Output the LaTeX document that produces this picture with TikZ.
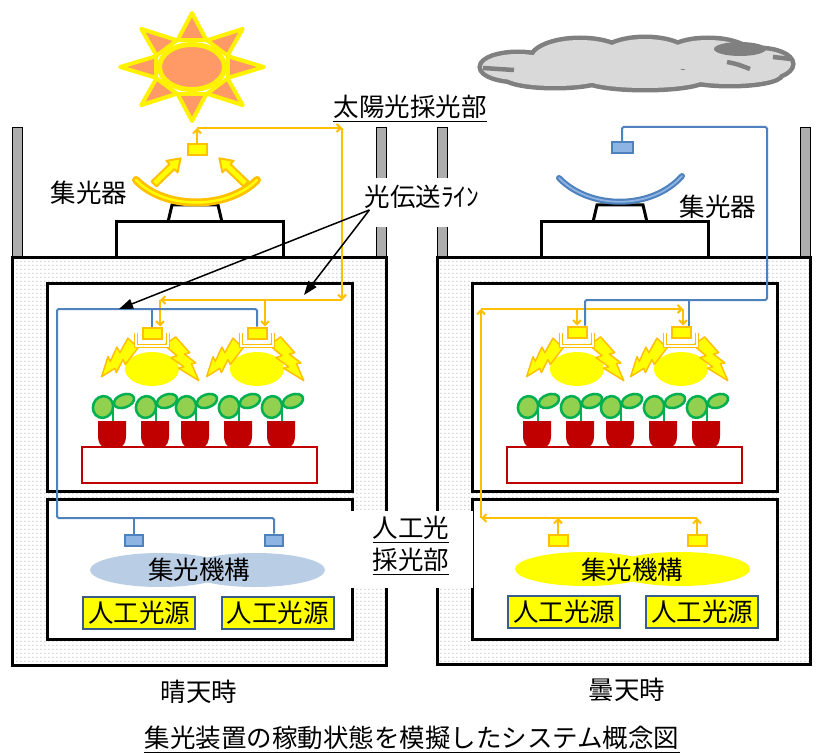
\documentclass[tikz,border=0pt]{standalone}
\usepackage{fontspec}
\setmainfont{Noto Sans CJK JP}
\usetikzlibrary{arrows.meta,patterns}

\definecolor{lampor}{HTML}{FFC000}
\definecolor{lampyl}{HTML}{FFFF00}
\definecolor{pipeblue}{HTML}{4F81BD}
\definecolor{pipelite}{HTML}{8EB4E3}
\definecolor{ellblue}{HTML}{B9CDE5}
\definecolor{boxedge}{HTML}{385D8A}
\definecolor{potred}{HTML}{C00000}
\definecolor{leafg}{HTML}{92D050}
\definecolor{leafedge}{HTML}{00B050}
\definecolor{sunsalmon}{HTML}{FF9966}
\definecolor{sunyl}{HTML}{FFF200}
\definecolor{cloudfill}{HTML}{D9D9D9}
\definecolor{cloudedge}{HTML}{808080}

% light stipple used for the insulated walls of the chambers
\pgfdeclarepatternformonly{stipple}{\pgfpointorigin}{\pgfpoint{4pt}{4pt}}{\pgfpoint{4pt}{4pt}}{%
  \pgfpathrectangle{\pgfpoint{0.5pt}{0.5pt}}{\pgfpoint{1.3pt}{0.9pt}}\pgfusepath{fill}}

\tikzset{
  lbl/.style={font=\fontsize{25.5}{30}\selectfont, inner sep=0pt},
  boxline/.style={draw=black, line width=3pt, line join=miter},
  wallstrip/.style={draw=black, line width=0.8pt, fill=black!32},
  oline/.style={draw=lampor, line width=2pt},
  oarr/.style={oline, -{Straight Barb[length=4pt,width=8pt]}},
  bline/.style={draw=pipeblue, line width=2pt, rounded corners=1.5pt},
  lamphead/.style={draw=lampor, fill=lampyl, line width=2pt, minimum width=19pt, minimum height=11pt, inner sep=0pt},
  bluehead/.style={draw=pipeblue, fill=pipelite, line width=2pt, minimum width=18pt, minimum height=11pt, inner sep=0pt},
  hood/.style={draw=lampor, line width=1.3pt, double=white, double distance=1.5pt},
  boltshape/.style={draw=lampor, fill=lampyl, line width=1.5pt, line join=round},
  blockarrow/.style={draw=lampor, fill=lampyl, line width=2pt, line join=round},
  leafshape/.style={draw=leafedge, fill=leafg, line width=2.5pt},
  srcbox/.style={lbl, draw=boxedge, fill=lampyl, line width=2pt, minimum width=112pt, minimum height=32pt},
  pointer/.style={draw=black, line width=1.5pt, -{Triangle[length=14pt,width=10pt]}},
  ul/.style={draw=black, line width=1.6pt},
}

\begin{document}
\begin{tikzpicture}[x=1pt, y=-1pt]
\useasboundingbox (0,0) rectangle (819,754);
\fill[white] (0,0) rectangle (819,754);

% ---------- side walls above the chambers ----------
\foreach \wx in {12,376,437,800}
  \draw[wallstrip] (\wx,127) rectangle (\wx+10,257);

% ---------- outer chambers ----------
\draw[boxline, pattern=stipple, pattern color=black!40] (12,257) rectangle (386,665);
\draw[boxline, pattern=stipple, pattern color=black!40] (437,257) rectangle (810,664);

% ---------- collector pedestals ----------
\foreach \dx in {0,425} {
  \draw[boxline, fill=white] (168+\dx,222) -- (172+\dx,205) -- (218+\dx,205) -- (222+\dx,222);
  \draw[boxline, fill=white] (116+\dx,222) rectangle (283+\dx,257);
}

% ---------- sunny-side collector dish ----------
\draw[lampor, line width=8pt, line cap=round] (136,180) .. controls (165,210) and (227,210) .. (257,180);
\draw[lampyl, line width=2.5pt, line cap=round] (136,180) .. controls (165,210) and (227,210) .. (257,180);
\begin{scope}[shift={(154,184)}, rotate=44]
  \draw[blockarrow] (0,-3.5) -- (25,-3.5) -- (25,-8) -- (37,0) -- (25,8) -- (25,3.5) -- (0,3.5) -- cycle;
\end{scope}
\begin{scope}[shift={(246,184)}, rotate=136]
  \draw[blockarrow] (0,-3.5) -- (25,-3.5) -- (25,-8) -- (37,0) -- (25,8) -- (25,3.5) -- (0,3.5) -- cycle;
\end{scope}
\node[lamphead] (rcvL) at (197,150) {};

% ---------- cloudy-side collector dish ----------
\draw[pipeblue, line width=6pt, line cap=round] (559,178) .. controls (590,210) and (652,210) .. (682,176);
\draw[pipelite, line width=1.8pt, line cap=round] (559,178) .. controls (590,210) and (652,210) .. (682,176);
\node[bluehead, minimum width=21pt] (rcvR) at (622,148) {};

% ---------- growth chambers and light-source rooms ----------
\foreach \dx in {0,425} {
  \draw[boxline, fill=white] (47+\dx,283) rectangle (352+\dx,491);
  \draw[boxline, fill=white] (47+\dx,499) rectangle (352+\dx,639);
  \draw[potred, line width=2pt, fill=white] (82+\dx,447) rectangle (317+\dx,483);
}

% ---------- seedlings in pots ----------
\foreach \p in {112,155,195,238,281,537,580,620,663,706} {
  \draw[leafedge, line width=2pt] (\p+1,421) -- (\p+1,404);
  \draw[leafshape, rotate around={-20:(\p-9,407)}] (\p-9,407) ellipse [x radius=10, y radius=11];
  \draw[leafshape, rotate around={20:(\p+12,401)}] (\p+12,401) ellipse [x radius=10.5, y radius=6.5];
  \fill[potred] (\p-14,421) -- (\p+14,421) -- (\p+14,436) to[out=-90,in=0] (\p+7,447)
    -- (\p-7,447) to[out=180,in=-90] (\p-14,436) -- cycle;
}

% ---------- lamps with their light ----------
\foreach \c in {152,257,577,681} {
  \fill[lampyl] (\c,369) ellipse [x radius=27, y radius=17];
  \begin{scope}[shift={(\c-19,343)}, rotate=227]
    \draw[boltshape] (0,-7) -- (0,7) -- (16,3) -- (14,9) -- (29,4) -- (27,9) -- (46,0)
      -- (31,-4) -- (33,-8) -- (19,-4) -- (21,-9) -- cycle;
  \end{scope}
  \begin{scope}[shift={(\c+18,341)}, rotate=-54]
    \draw[boltshape] (0,-7) -- (0,7) -- (16,3) -- (14,9) -- (29,4) -- (27,9) -- (49,0)
      -- (31,-4) -- (33,-8) -- (19,-4) -- (21,-9) -- cycle;
  \end{scope}
  \draw[hood] (\c-16,333) -- (\c-16,346) -- (\c+16,346) -- (\c+16,333);
}
\node[lamphead] (lhL1) at (152,333) {};
\node[lamphead] (lhL2) at (257,333) {};
\node[lamphead] (lhR1) at (577,332) {};
\node[lamphead] (lhR2) at (681,332) {};

% ---------- light collecting mechanism and artificial sources ----------
\fill[ellblue] (160,570) ellipse [x radius=70, y radius=17];
\fill[ellblue] (255,570) ellipse [x radius=70, y radius=17];
\fill[lampyl] (585,569) ellipse [x radius=70, y radius=17];
\fill[lampyl] (680,569) ellipse [x radius=70, y radius=17];
\node[lbl] (mechL) at (199,570) {集光機構};
\node[lbl] (mechR) at (632,570) {集光機構};

\node[srcbox] (srcL1) at (139,613) {人工光源};
\node[srcbox] (srcL2) at (277.5,613) {人工光源};
\node[srcbox] (srcR1) at (564,612) {人工光源};
\node[srcbox] (srcR2) at (702,612) {人工光源};

\node[bluehead] (bsL1) at (134,540) {};
\node[bluehead] (bsL2) at (274,540) {};
\node[lamphead] (osR1) at (558,540) {};
\node[lamphead] (osR2) at (697,540) {};

% ---------- sunny day: sunlight route (orange), artificial route idle (blue) ----------
\coordinate (oL1) at (197,128);
\coordinate (oL2) at (342,128);
\coordinate (oL3) at (342,300);
\coordinate (oL4) at (160,300);
\coordinate (oL5) at (265,300);
\draw[oarr] (rcvL.north) -- (oL1);
\draw[oarr] (oL1) -- (oL2);
\draw[oarr] (oL2) -- (oL3);
\draw[oarr] (oL3) -- (oL4);
\draw[oarr] (oL4) -- ([xshift=8pt]lhL1.north);
\draw[oarr] (oL5) -- ([xshift=8pt]lhL2.north);

\coordinate (bL1) at (57,309);
\coordinate (bL2) at (57,518);
\draw[bline] (lhL2.north) |- (bL1) -- (bL2) -| (bsL2.north);
\draw[bline] (lhL1.north) -- (lhL1.north |- bL1);
\draw[bline] (bsL1.north) -- (bsL1.north |- bL2);

% ---------- cloudy day: artificial light route (orange), sunlight route idle (blue) ----------
\coordinate (oR1) at (481,518);
\coordinate (oR2) at (481,309);
\draw[oarr] (osR1.north) -- (osR1.north |- oR1);
\draw[oarr] (osR2.north) -- (osR2.north |- oR1);
\draw[oline] (osR2.north |- oR1) -- (osR1.north |- oR1);
\draw[oarr] (osR1.north |- oR1) -- (oR1);
\draw[oarr] (oR1) -- (oR2);
\draw[oarr] (oR2) -- ([xshift=2pt]lhR2.north |- oR2);
\draw[oarr] (lhR1.north |- oR2) -- (lhR1.north);
\draw[oarr] ([xshift=2pt]lhR2.north |- oR2) -- ([xshift=2pt]lhR2.north);

\coordinate (bR1) at (767,127);
\coordinate (bR2) at (767,300);
\draw[bline] (rcvR.north) |- (bR1) -- (bR2) -| ([xshift=8pt]lhR1.north);
\draw[bline] ([xshift=8pt]lhR2.north) -- ([xshift=8pt]lhR2.north |- bR2);

% ---------- labels between the two panels ----------
\fill[white] (362,178) rectangle (483,227);
\node[lbl] (linelbl) at (422,197) {光伝送ﾗｲﾝ};
\coordinate (tipA) at (119,309);
\coordinate (tipB) at (304,295);
\draw[pointer] ([xshift=5pt,yshift=-1pt]linelbl.south west) -- (tipA);
\draw[pointer] ([xshift=5pt,yshift=-1pt]linelbl.south west) -- (tipB);

\fill[white] (349,511) rectangle (473,588);
\node[lbl] (artA) at (411,528) {人工光};
\node[lbl] (artB) at (411,560) {採光部};
\draw[ul] ([yshift=-2.5pt]artA.south west) -- ([yshift=-2.5pt]artA.south east);
\draw[ul] ([yshift=-2.5pt]artB.south west) -- ([yshift=-2.5pt]artB.south east);

\node[lbl] (dishL) at (89,193) {集光器};
\node[lbl] (dishR) at (718,207) {集光器};

\node[lbl] (sunlbl) at (410,107) {太陽光採光部};
\draw[ul] ([yshift=-2.5pt]sunlbl.south west) -- ([yshift=-2.5pt]sunlbl.south east);

% ---------- sun ----------
\begin{scope}[shift={(192,67)}, xscale=1.33]
  \foreach \a in {0,45,...,315}
    \draw[fill=sunsalmon, draw=sunyl, line width=4pt, line join=round] (\a:54) -- (\a+22:29) -- (\a-22:29) -- cycle;
\end{scope}
\draw[fill=sunsalmon, draw=sunyl, line width=5pt] (192,67) ellipse [x radius=32.5, y radius=22.5];

% ---------- cloud ----------
\foreach \cx/\cy/\rx/\ry in {518/67/36/13, 580/60/48/20, 645/58/45/19, 708/56/42/16,
                             758/64/33/14, 555/76/50/10, 645/78/60/10, 730/74/50/10}
  \draw[cloudedge, line width=9pt] (\cx,\cy) ellipse [x radius=\rx, y radius=\ry];
\foreach \cx/\cy/\rx/\ry in {518/67/36/13, 580/60/48/20, 645/58/45/19, 708/56/42/16,
                             758/64/33/14, 555/76/50/10, 645/78/60/10, 730/74/50/10}
  \fill[cloudfill] (\cx,\cy) ellipse [x radius=\rx, y radius=\ry];
\fill[cloudedge] (740,49) ellipse [x radius=26, y radius=7];
\draw[cloudedge, line width=4.5pt] (483,68) -- (514,70);
\draw[cloudedge, line width=4.5pt] (727,62) .. controls (737,64) .. (750,69);
\draw[cloudedge, line width=4.5pt] (773,57) -- (791,59);

% ---------- captions ----------
\node[lbl] (capL) at (199,692) {晴天時};
\node[lbl] (capR) at (627,690) {曇天時};
\node[lbl] (title) at (412,738) {集光装置の稼動状態を模擬したシステム概念図};
\draw[ul] ([yshift=-2.5pt]title.south west) -- ([yshift=-2.5pt]title.south east);
\end{tikzpicture}
\end{document}
